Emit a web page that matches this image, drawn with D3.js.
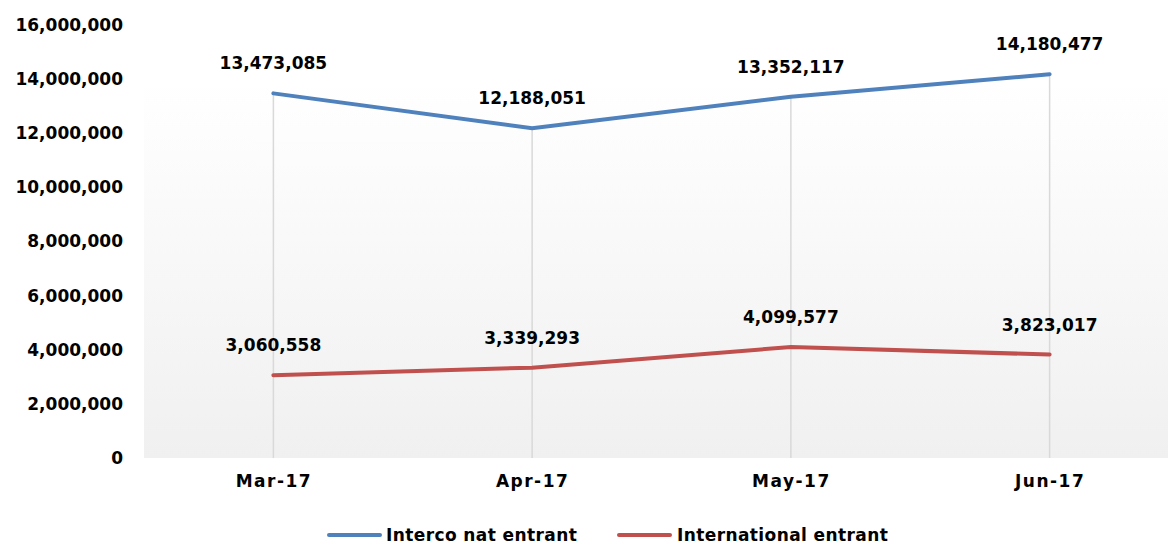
<!DOCTYPE html>
<html><head><meta charset="utf-8">
<script src="https://cdn.jsdelivr.net/npm/d3@7"></script>
<style>
body{margin:0;background:#fff;}
text{font-family:"DejaVu Sans",sans-serif;font-weight:bold;fill:#000;}
</style></head>
<body><svg id="c" width="1168" height="545"></svg>
<script>
const categories = ["Mar-17","Apr-17","May-17","Jun-17"];
const seriesNames = ["Interco nat entrant","International entrant"];
const intercoNat = [13473085,12188051,13352117,14180477];
const international = [3060558,3339293,4099577,3823017];
const yTicks = [0,2000000,4000000,6000000,8000000,10000000,12000000,14000000,16000000];
const colors = ["#4f81bd","#c0504d"];

(function(){
const FONT = "DejaVu Sans, sans-serif";
const svg = d3.select("#c");
const pL = 144, pR = 1179, pT = 25, pB = 458;
const x = d3.scalePoint().domain(categories).range([pL, pR]).padding(0.5);
const y = d3.scaleLinear().domain([0,16000000]).range([pB, pT]);

const defs = svg.append("defs");
const g = defs.append("linearGradient").attr("id","bg").attr("x1",0).attr("y1",0).attr("x2",0).attr("y2",1);
g.append("stop").attr("offset","0%").attr("stop-color","#ffffff");
g.append("stop").attr("offset","13%").attr("stop-color","#ffffff");
g.append("stop").attr("offset","100%").attr("stop-color","#f0f0f0");
svg.append("rect").attr("x",pL).attr("y",pT).attr("width",pR-pL).attr("height",pB-pT).attr("fill","url(#bg)");

const series = [intercoNat, international];
svg.append("g").selectAll("line").data(categories).join("line")
  .attr("x1",d=>x(d)).attr("x2",d=>x(d))
  .attr("y1",(d,i)=>y(d3.max(series, s=>s[i]))).attr("y2",pB)
  .attr("stroke","#d9d9d9").attr("stroke-width",1.5);

const yAxis = d3.axisLeft(y).tickValues(yTicks).tickFormat(d3.format(",")).tickSize(0).tickPadding(0);
const ya = svg.append("g").attr("transform",`translate(${pL-21},0)`).call(yAxis);
ya.select(".domain").remove();
ya.selectAll("text").attr("font-size",17).style("font-family",FONT).style("font-weight","bold");

const xAxis = d3.axisBottom(x).tickSize(0).tickPadding(0);
const xa = svg.append("g").attr("transform",`translate(0,${pB+17})`).call(xAxis);
xa.select(".domain").remove();
xa.selectAll("text").attr("font-size",17).style("font-family",FONT).style("font-weight","bold")
  .style("letter-spacing","1.5px");

const line = d3.line().x((d,i)=>x(categories[i])).y(d=>y(d));
series.forEach((s,k)=>{
  svg.append("path").datum(s).attr("d",line).attr("fill","none")
    .attr("stroke",colors[k]).attr("stroke-width",4).attr("stroke-linecap","round");
  svg.append("g").selectAll("text").data(s).join("text")
    .attr("x",(d,i)=>x(categories[i])).attr("y",d=>y(d)-24)
    .attr("text-anchor","middle").attr("font-size",17).text(d=>d3.format(",")(d));
});

const leg = [{x:329,tx:386},{x:619,tx:677}];
seriesNames.forEach((n,k)=>{
  svg.append("line").attr("x1",leg[k].x).attr("x2",leg[k].x+51).attr("y1",535).attr("y2",535)
    .attr("stroke",colors[k]).attr("stroke-width",4).attr("stroke-linecap","round");
  svg.append("text").attr("x",leg[k].tx).attr("y",541).attr("font-size",17)
    .style("letter-spacing","0.4px").text(n);
});
})();
</script></body></html>
